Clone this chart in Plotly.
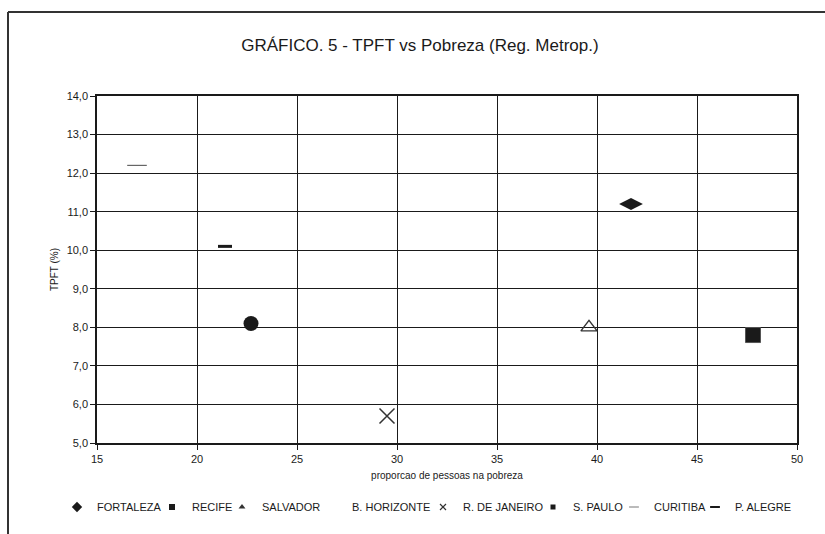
import plotly.graph_objects as go

# Regiões metropolitanas: proporção de pessoas na pobreza (%) e TPFT (%)
cidades = ["FORTALEZA", "RECIFE", "SALVADOR", "B. HORIZONTE",
           "R. DE JANEIRO", "S. PAULO", "CURITIBA", "P. ALEGRE"]
pobreza = [41.7, 47.8, 39.6, None, 29.5, 22.7, 17.0, 21.4]
tpft = [11.2, 7.8, 8.0, None, 5.7, 8.1, 12.2, 10.1]

x_ticks = [15, 20, 25, 30, 35, 40, 45, 50]
y_ticks = [5, 6, 7, 8, 9, 10, 11, 12, 13, 14]

INK = "#1a1a1a"
FONT = "Liberation Sans, Arial, sans-serif"

# plot area in pixels (used to place the frame and the legend)
L, R, T, B = 97, 797, 96, 443
W, H = R - L, B - T

# marker style for the plotted point and for the small legend glyph
estilos = {
    "FORTALEZA": (dict(symbol="diamond-wide", size=17, color=INK),
                  dict(symbol="diamond", size=8, color=INK)),
    "RECIFE": (dict(symbol="square", size=15, color=INK,
                    line=dict(color="#555", width=1)),
               dict(symbol="square", size=6, color=INK)),
    "SALVADOR": (dict(symbol="triangle-up-open", size=14, color="#333",
                      line=dict(color="#333", width=1.4)),
                 dict(symbol="triangle-up", size=6, color="#333")),
    "B. HORIZONTE": (dict(symbol="circle", size=6, color="white", opacity=0),
                     dict(symbol="circle", size=6, color="white", opacity=0)),
    "R. DE JANEIRO": (dict(symbol="x-thin", size=15, color="#333",
                           line=dict(color="#333", width=1.5)),
                      dict(symbol="x-thin", size=6, color="#333",
                           line=dict(color="#333", width=1.2))),
    "S. PAULO": (dict(symbol="circle", size=15, color=INK),
                 dict(symbol="square", size=5, color=INK)),
    "CURITIBA": (dict(symbol="line-ew", size=14, color="#666",
                      line=dict(color="#666", width=1.2)),
                 dict(symbol="line-ew", size=7, color="#777",
                      line=dict(color="#777", width=1))),
    "P. ALEGRE": (dict(symbol="line-ew", size=10, color=INK,
                       line=dict(color=INK, width=3)),
                  dict(symbol="line-ew", size=7, color=INK,
                       line=dict(color=INK, width=2))),
}
# horizontal room given to each legend label (kept tight so all fit on one row)
larguras = [50, 25, 45, 66, 65, 36, 36, 62]

fig = go.Figure()
for nome, px, py, lw in zip(cidades, pobreza, tpft, larguras):
    ponto, glifo = estilos[nome]
    fig.add_trace(go.Scatter(
        x=[px], y=[py], mode="markers", name=nome, marker=ponto,
        legendgroup=nome, showlegend=False,
    ))
    fig.add_trace(go.Scatter(
        x=[None], y=[None], mode="markers", name=nome, marker=glifo,
        legendgroup=nome, showlegend=True, legendwidth=lw,
    ))

eixo = dict(
    showline=True, mirror=True, linecolor=INK, linewidth=1.5,
    showgrid=True, gridcolor=INK, gridwidth=1.3,
    zeroline=False, ticks="outside", ticklen=5, tickcolor=INK,
    tickfont=dict(family=FONT, size=11, color=INK),
)

fig.update_layout(
    width=825, height=534,
    margin=dict(l=L, r=825 - R, t=T, b=534 - B),
    paper_bgcolor="white", plot_bgcolor="white",
    separators=", ",
    font=dict(family=FONT, color=INK),
    title=dict(text="GRÁFICO. 5 - TPFT vs Pobreza (Reg. Metrop.)",
               x=0.509, xanchor="center", y=0.915, yanchor="middle",
               font=dict(family=FONT, size=17, color=INK)),
    xaxis=dict(eixo, range=[15, 50], tickvals=x_ticks,
               title=dict(text="proporcao de pessoas na pobreza",
                          font=dict(family=FONT, size=10, color=INK),
                          standoff=8)),
    yaxis=dict(eixo, range=[5, 14], tickvals=y_ticks, tickformat=".1f",
               title=dict(text="TPFT (%)",
                          font=dict(family=FONT, size=10, color=INK),
                          standoff=6)),
    legend=dict(orientation="h", xref="paper", yref="paper",
                x=(57 - L) / W, xanchor="left",
                y=(B - 521.5) / H, yanchor="bottom",
                itemwidth=30, traceorder="normal",
                font=dict(family=FONT, size=11, color=INK),
                bgcolor="rgba(0,0,0,0)"),
    showlegend=True,
)

# moldura da área do gráfico (linhas superior e esquerda)
fig.add_shape(type="line", xref="paper", yref="paper",
              x0=(8 - L) / W, x1=(825 - L) / W,
              y0=(B - 12) / H, y1=(B - 12) / H,
              line=dict(color="#333", width=2))
fig.add_shape(type="line", xref="paper", yref="paper",
              x0=(8 - L) / W, x1=(8 - L) / W,
              y0=(B - 12) / H, y1=(B - 534) / H,
              line=dict(color="#333", width=2))

fig.write_html("out.html")
